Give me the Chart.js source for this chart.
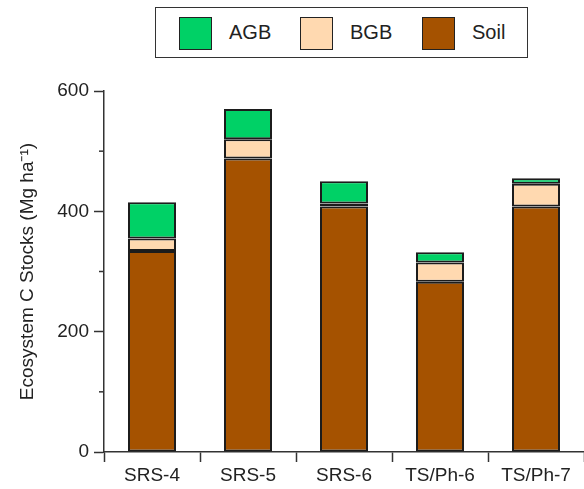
<!DOCTYPE html>
<html>
<head>
<meta charset="utf-8">
<script src="https://cdn.jsdelivr.net/npm/chart.js@4"></script>
<style>
  html, body { margin: 0; padding: 0; background: #fff; }
  #wrap { position: relative; width: 584px; height: 489px; }
  #legend {
    position: absolute; left: 155px; top: 7px; width: 371px; height: 49px;
    border: 1.5px solid #333; background: #fff;
    font-family: "Liberation Sans", Arial, sans-serif; font-size: 20px; color: #222;
  }
  .sw { position: absolute; top: 9px; width: 31px; height: 31px; border: 1.5px solid #222; }
  .lb { position: absolute; top: 12px; line-height: 24px; }
</style>
</head>
<body>
<div id="wrap">
  <canvas id="c" width="584" height="489"></canvas>
  <div id="legend"></div>
</div>
<script>
  const categories = ['SRS-4', 'SRS-5', 'SRS-6', 'TS/Ph-6', 'TS/Ph-7'];
  const soil = [334, 488, 408, 283, 408];
  const bgb = [21, 32, 5, 32, 38];
  const agb = [60, 50, 37, 17, 9];

  const legendNames = ['AGB', 'BGB', 'Soil'];
  const legendColors = ['#00d166', '#ffd9b0', '#a55200'];
  const legendX = [23, 144, 266];

  const FONT = '"Liberation Sans", Arial, sans-serif';
  const INK = '#222';
  const AXIS = '#333';

  // legend as plain html, drawn over the canvas
  const legend = document.getElementById('legend');
  legendNames.forEach(function (name, i) {
    const sw = document.createElement('div');
    sw.className = 'sw';
    sw.style.left = legendX[i] + 'px';
    sw.style.background = legendColors[i];
    legend.appendChild(sw);
    const lb = document.createElement('div');
    lb.className = 'lb';
    lb.style.left = (legendX[i] + 50) + 'px';
    lb.textContent = name;
    legend.appendChild(lb);
  });

  // short unlabelled ticks at 100, 300, 500
  const minorTicks = {
    id: 'minorTicks',
    afterDraw(chart) {
      const y = chart.scales.y;
      const ctx = chart.ctx;
      ctx.save();
      ctx.strokeStyle = AXIS;
      ctx.lineWidth = 1.5;
      [100, 300, 500].forEach(function (v) {
        const py = y.getPixelForValue(v);
        ctx.beginPath();
        ctx.moveTo(y.right - 5, py);
        ctx.lineTo(y.right, py);
        ctx.stroke();
      });
      ctx.restore();
    },
  };

  function series(label, data, color) {
    return {
      label,
      data,
      backgroundColor: color,
      borderColor: '#1c1c1c',
      borderWidth: 2,
      borderSkipped: false,
      barPercentage: 0.5,
      categoryPercentage: 1,
    };
  }

  Chart.defaults.font.family = FONT;
  Chart.defaults.font.size = 19;
  Chart.defaults.color = INK;

  new Chart(document.getElementById('c'), {
    type: 'bar',
    data: {
      labels: categories,
      datasets: [
        series('Soil', soil, legendColors[2]),
        series('BGB', bgb, legendColors[1]),
        series('AGB', agb, legendColors[0]),
      ],
    },
    options: {
      responsive: false,
      animation: false,
      layout: { padding: { top: 91, left: 0, right: 0, bottom: 0 } },
      plugins: { legend: { display: false }, tooltip: { enabled: false } },
      scales: {
        x: {
          stacked: true,
          grid: { display: true, offset: true, drawOnChartArea: false, tickLength: 10, tickColor: AXIS, tickWidth: 1.5 },
          border: { display: true, color: AXIS, width: 1.5 },
          ticks: { padding: 2, color: INK, maxRotation: 0 },
          afterFit(s) { s.height = 37; },
        },
        y: {
          stacked: true,
          min: 0,
          max: 600,
          grid: { display: true, drawOnChartArea: false, tickLength: 10, tickColor: AXIS, tickWidth: 1.5 },
          border: { display: true, color: AXIS, width: 1.5 },
          ticks: { stepSize: 200, padding: 5, color: INK },
          title: {
            display: true,
            text: 'Ecosystem C Stocks (Mg ha\u207B\u00B9)',
            color: INK,
            font: { size: 19 },
            padding: { top: 16, bottom: 0 },
          },
          afterFit(s) { s.width = 104; },
        },
      },
    },
    plugins: [minorTicks],
  });
</script>
</body>
</html>
